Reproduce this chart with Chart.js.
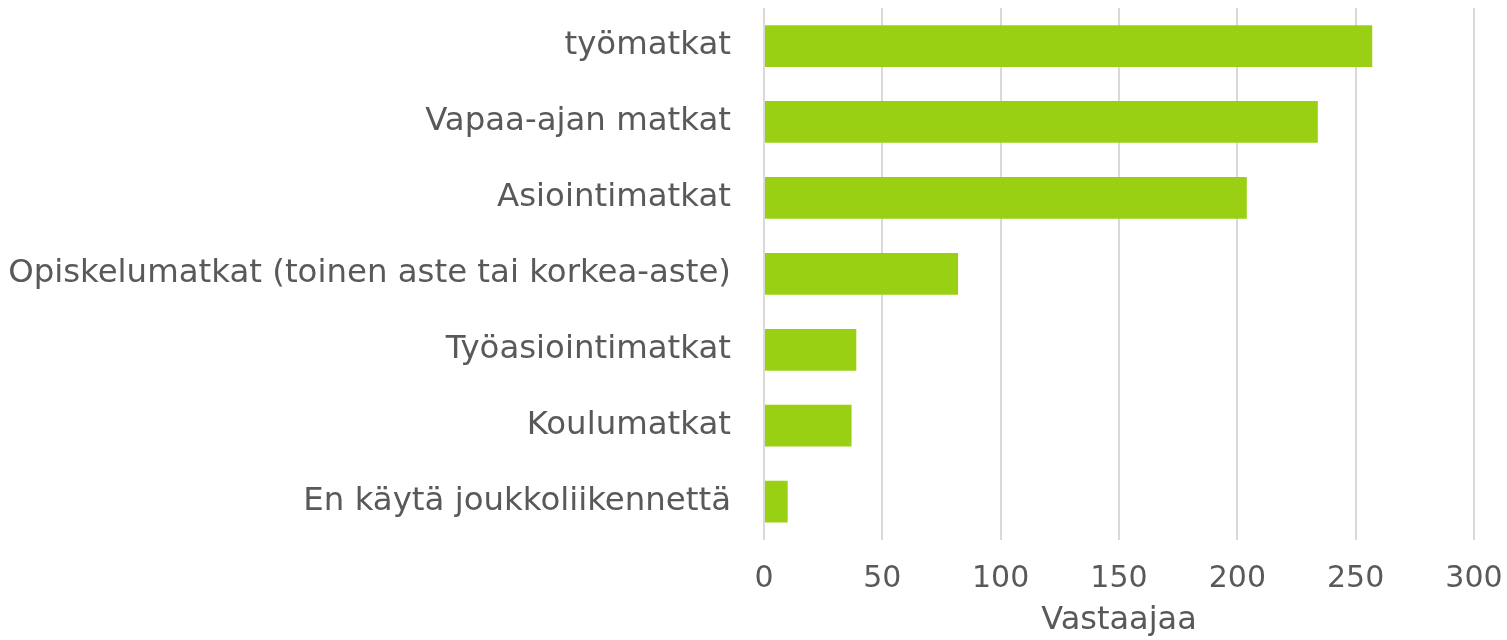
<!DOCTYPE html>
<html>
<head>
<meta charset="utf-8">
<script src="https://cdn.jsdelivr.net/npm/chart.js@4/dist/chart.umd.min.js"></script>
<style>
  html, body { margin: 0; padding: 0; background: #fff; }
  #wrap { width: 1507px; height: 640px; position: relative; }
</style>
</head>
<body>
<div id="wrap"><canvas id="chart"></canvas></div>
<script>
const categories = [
  'työmatkat',
  'Vapaa-ajan matkat',
  'Asiointimatkat',
  'Opiskelumatkat (toinen aste tai korkea-aste)',
  'Työasiointimatkat',
  'Koulumatkat',
  'En käytä joukkoliikennettä'
];
const respondents = [257, 234, 204, 82, 39, 37, 10];
const xTicks = [0, 50, 100, 150, 200, 250, 300];
const xTitle = 'Vastaajaa';

const textColor = '#595959';
const fontFamily = '"DejaVu Sans", Verdana, sans-serif';

new Chart(document.getElementById('chart'), {
  type: 'bar',
  data: {
    labels: categories,
    datasets: [{
      data: respondents,
      backgroundColor: '#9ad014',
      borderWidth: 0,
      categoryPercentage: 1,
      barPercentage: 0.55
    }]
  },
  options: {
    indexAxis: 'y',
    responsive: true,
    maintainAspectRatio: false,
    animation: false,
    layout: { padding: { left: 8, right: 33, top: 8, bottom: 0 } },
    plugins: { legend: { display: false }, tooltip: { enabled: false } },
    scales: {
      x: {
        min: 0,
        max: 300,
        afterBuildTicks: function (axis) {
          axis.ticks = xTicks.map(v => ({ value: v }));
        },
        // tick marks kept invisible, they only push the labels down
        grid: { color: '#d9d9d9', lineWidth: 2, drawTicks: true, tickLength: 22, tickColor: 'rgba(0,0,0,0)' },
        border: { display: false },
        ticks: { color: textColor, font: { family: fontFamily, size: 30 }, padding: 0 },
        title: {
          display: true,
          text: xTitle,
          color: textColor,
          font: { family: fontFamily, size: 32 },
          padding: { top: 4, bottom: 0 }
        }
      },
      y: {
        // long labels: let the axis take more than half the width
        afterFit: function (axis) {
          axis.width = 756;
        },
        grid: { display: false, drawTicks: true, tickLength: 33 },
        border: { display: false },
        ticks: { color: textColor, font: { family: fontFamily, size: 32.4, lineHeight: 0.5 }, padding: 0 }
      }
    }
  }
});
</script>
</body>
</html>
